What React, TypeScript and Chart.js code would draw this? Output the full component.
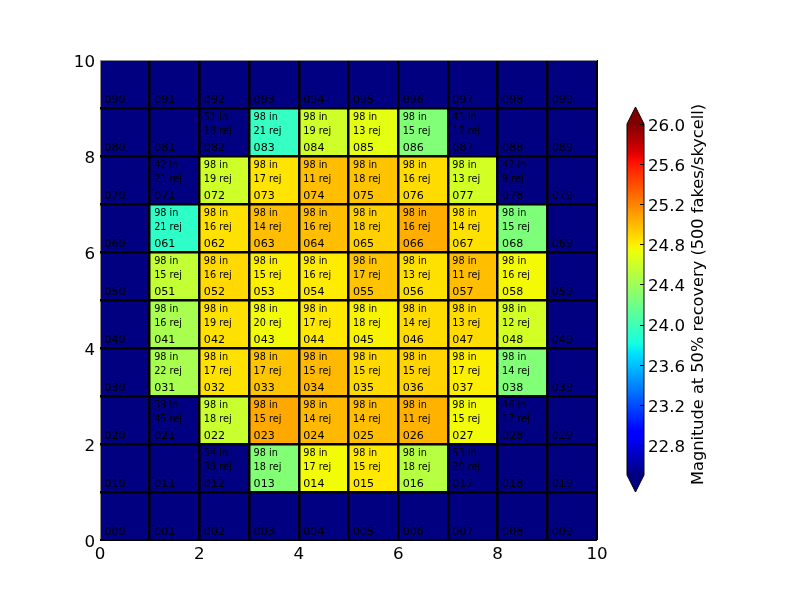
import React, { useEffect, useRef } from "react";
import { Chart, registerables } from "chart.js";

Chart.register(...registerables);

const FONT_FAMILY = '"DejaVu Sans", "Liberation Sans", sans-serif';
const TICK_FONT_SIZE = 16.7;
const LABEL_FONT_SIZE = 16.2;
const ID_FONT_SIZE = 11.1;
const COUNT_FONT_SIZE = 9.7;

const COLUMNS = [0, 1, 2, 3, 4, 5, 6, 7, 8, 9];
const ROWS = [0, 1, 2, 3, 4, 5, 6, 7, 8, 9];
const AXIS_TICK_LABELS = [0, 2, 4, 6, 8, 10];

const COLORBAR_MIN = 22.5;
const COLORBAR_MAX = 26.0;
const COLORBAR_TICKS = [22.8, 23.2, 23.6, 24.0, 24.4, 24.8, 25.2, 25.6, 26.0];
const COLORBAR_LABEL = "Magnitude at 50% recovery (500 fakes/skycell)";

// magnitude at 50% recovery, row index = y (0 at bottom), column index = x
const magnitude: (number | null)[][] = [
  [null, null, null, null, null, null, null, null, null, null],
  [null, null, null, 24.28, 24.75, 24.82, 24.5, null, null, null],
  [null, null, 24.58, 25.06, 25.0, 24.98, 25.02, 24.75, null, null],
  [null, 24.44, 24.85, 24.96, 25.0, 24.88, 24.9, 24.8, 24.27, null],
  [null, 24.44, 24.85, 24.75, 24.82, 24.78, 24.87, 24.87, 24.62, null],
  [null, 24.55, 24.88, 24.8, 24.81, 24.96, 24.85, 24.98, 24.76, null],
  [null, 23.92, 24.85, 24.98, 24.98, 24.91, 25.04, 24.85, 24.26, null],
  [null, null, 24.6, 24.84, 24.98, 24.96, 24.87, 24.62, null, null],
  [null, null, null, 23.95, 24.6, 24.7, 24.27, null, null, null],
  [null, null, null, null, null, null, null, null, null, null],
];

const countIn: (number | null)[][] = [
  [null, null, null, null, null, null, null, null, null, null],
  [null, null, 54, 98, 98, 98, 98, 53, null, null],
  [null, 59, 98, 98, 98, 98, 98, 98, 46, null],
  [null, 98, 98, 98, 98, 98, 98, 98, 98, null],
  [null, 98, 98, 98, 98, 98, 98, 98, 98, null],
  [null, 98, 98, 98, 98, 98, 98, 98, 98, null],
  [null, 98, 98, 98, 98, 98, 98, 98, 98, null],
  [null, 42, 98, 98, 98, 98, 98, 98, 42, null],
  [null, null, 51, 98, 98, 98, 98, 41, null, null],
  [null, null, null, null, null, null, null, null, null, null],
];

const countRej: (number | null)[][] = [
  [null, null, null, null, null, null, null, null, null, null],
  [null, null, 38, 18, 17, 15, 18, 20, null, null],
  [null, 45, 18, 15, 14, 14, 11, 15, 17, null],
  [null, 22, 17, 17, 15, 15, 15, 17, 14, null],
  [null, 16, 19, 20, 17, 18, 14, 13, 12, null],
  [null, 15, 16, 15, 16, 17, 13, 11, 16, null],
  [null, 21, 16, 14, 16, 18, 16, 14, 15, null],
  [null, 21, 19, 17, 11, 18, 16, 13, 9, null],
  [null, null, 18, 21, 19, 13, 15, 12, null, null],
  [null, null, null, null, null, null, null, null, null, null],
];

// matplotlib "jet" segment data
const JET_R: [number, number][] = [[0, 0], [0.35, 0], [0.66, 1], [0.89, 1], [1, 0.5]];
const JET_G: [number, number][] = [[0, 0], [0.125, 0], [0.375, 1], [0.64, 1], [0.91, 0], [1, 0]];
const JET_B: [number, number][] = [[0, 0.5], [0.11, 1], [0.34, 1], [0.65, 0], [1, 0]];

function interp(t: number, pts: [number, number][]): number {
  if (t <= pts[0][0]) return pts[0][1];
  for (let k = 1; k < pts.length; k++) {
    if (t <= pts[k][0]) {
      const [x0, y0] = pts[k - 1];
      const [x1, y1] = pts[k];
      return y0 + ((t - x0) / (x1 - x0)) * (y1 - y0);
    }
  }
  return pts[pts.length - 1][1];
}

function jet(t: number): string {
  const r = Math.round(interp(t, JET_R) * 255);
  const g = Math.round(interp(t, JET_G) * 255);
  const b = Math.round(interp(t, JET_B) * 255);
  return `rgb(${r},${g},${b})`;
}

const UNDER_COLOR = jet(0);
const OVER_COLOR = jet(1);

function colorFor(v: number | null): string {
  if (v === null || v < COLORBAR_MIN) return UNDER_COLOR;
  if (v > COLORBAR_MAX) return OVER_COLOR;
  return jet((v - COLORBAR_MIN) / (COLORBAR_MAX - COLORBAR_MIN));
}

const font = (size: number) => `${size}px ${FONT_FAMILY}`;

const cellTextPlugin = {
  id: "cellText",
  afterDraw(chart: any) {
    const { ctx } = chart;
    const xs = chart.scales.x;
    const ys = chart.scales.y;
    ctx.save();
    ctx.fillStyle = "#000";
    ctx.textAlign = "left";
    ctx.textBaseline = "alphabetic";
    ROWS.forEach((j) => {
      COLUMNS.forEach((i) => {
        const px = xs.getPixelForValue(i + 0.09);
        ctx.font = font(ID_FONT_SIZE);
        ctx.fillText(`0${j}${i}`, px, ys.getPixelForValue(j + 0.1));
        const nin = countIn[j][i];
        const nrej = countRej[j][i];
        if (nin !== null && nrej !== null) {
          ctx.font = font(COUNT_FONT_SIZE);
          ctx.fillText(`${nin} in`, px, ys.getPixelForValue(j + 0.744));
          ctx.fillText(`${nrej} rej`, px, ys.getPixelForValue(j + 0.452));
        }
      });
    });
    ctx.restore();
  },
};

const gridColor = (edgeLight: number) => (c: any) =>
  c.tick && c.tick.value === edgeLight ? "#8c8c8c" : "#000";
const gridWidth = (edgeLight: number, edgeDark: number) => (c: any) => {
  const v = c.tick ? c.tick.value : -1;
  if (v === edgeLight) return 1;
  if (v === edgeDark) return 2;
  return 2.5;
};

const colorbarPlugin = {
  id: "colorbarDecor",
  afterDatasetsDraw(chart: any) {
    const { ctx, chartArea } = chart;
    const { left, right, top, bottom } = chartArea;
    const cx = (left + right) / 2;
    const h = 17;
    ctx.save();
    // extension triangles
    ctx.fillStyle = OVER_COLOR;
    ctx.beginPath();
    ctx.moveTo(left, top);
    ctx.lineTo(cx, top - h);
    ctx.lineTo(right, top);
    ctx.closePath();
    ctx.fill();
    ctx.fillStyle = UNDER_COLOR;
    ctx.beginPath();
    ctx.moveTo(left, bottom);
    ctx.lineTo(cx, bottom + h);
    ctx.lineTo(right, bottom);
    ctx.closePath();
    ctx.fill();
    // outline
    ctx.strokeStyle = "#000";
    ctx.lineWidth = 1;
    ctx.beginPath();
    ctx.moveTo(left, top);
    ctx.lineTo(cx, top - h);
    ctx.lineTo(right, top);
    ctx.lineTo(right, bottom);
    ctx.lineTo(cx, bottom + h);
    ctx.lineTo(left, bottom);
    ctx.closePath();
    ctx.stroke();
    // inward tick marks
    const ys = chart.scales.y;
    ctx.beginPath();
    COLORBAR_TICKS.forEach((v) => {
      const py = Math.round(ys.getPixelForValue(v)) + 0.5;
      ctx.moveTo(right - 4, py);
      ctx.lineTo(right, py);
    });
    ctx.stroke();
    // label
    ctx.fillStyle = "#000";
    ctx.font = font(LABEL_FONT_SIZE);
    ctx.textAlign = "center";
    ctx.textBaseline = "alphabetic";
    ctx.translate(103, (top + bottom) / 2 - 5);
    ctx.rotate(-Math.PI / 2);
    ctx.fillText(COLORBAR_LABEL, 0, 0);
    ctx.restore();
  },
};

export default function App() {
  const mainRef = useRef<HTMLCanvasElement>(null);
  const cbRef = useRef<HTMLCanvasElement>(null);

  useEffect(() => {
    const tickFont = { family: FONT_FAMILY, size: TICK_FONT_SIZE };
    const datasets = ROWS.map((j) => ({
      label: `row ${j}`,
      data: COLUMNS.map((i) => ({ x: i + 0.5, y: [j, j + 1] })),
      backgroundColor: COLUMNS.map((i) => colorFor(magnitude[j][i])),
      borderWidth: 0,
      barPercentage: 1,
      categoryPercentage: 1,
      grouped: false,
    }));

    const main = new Chart(mainRef.current as HTMLCanvasElement, {
      type: "bar",
      data: { datasets: datasets as any },
      options: {
        animation: false,
        responsive: false,
        devicePixelRatio: 1,
        layout: { padding: { top: 60, right: 203, left: 0, bottom: 0 } },
        plugins: { legend: { display: false }, tooltip: { enabled: false } },
        scales: {
          x: {
            type: "linear",
            min: 0,
            max: 10,
            offset: false,
            ticks: {
              stepSize: 1,
              autoSkip: false,
              maxRotation: 0,
              padding: 5,
              color: "#000",
              font: tickFont,
              callback: (v: any) => (AXIS_TICK_LABELS.includes(Number(v)) ? String(v) : ""),
            },
            grid: {
              offset: false,
              drawTicks: false,
              z: 1,
              color: gridColor(0) as any,
              lineWidth: gridWidth(0, 10) as any,
            },
            border: { display: false },
            afterFit: (s: any) => {
              s.height = 60;
            },
          },
          y: {
            type: "linear",
            min: 0,
            max: 10,
            ticks: {
              stepSize: 1,
              autoSkip: false,
              padding: 5,
              labelOffset: 2.5,
              color: "#000",
              font: tickFont,
              callback: (v: any) => (AXIS_TICK_LABELS.includes(Number(v)) ? String(v) : ""),
            },
            grid: {
              drawTicks: false,
              z: 1,
              color: gridColor(10) as any,
              lineWidth: gridWidth(10, 0) as any,
            },
            border: { display: false },
            afterFit: (s: any) => {
              s.width = 100;
            },
          },
        },
      } as any,
      plugins: [cellTextPlugin],
    });

    const cb = new Chart(cbRef.current as HTMLCanvasElement, {
      type: "bar",
      data: {
        labels: [""],
        datasets: [
          {
            data: [[COLORBAR_MIN, COLORBAR_MAX]] as any,
            backgroundColor: (c: any) => {
              const chart = c.chart;
              const ys = chart.scales.y;
              if (!chart.chartArea || !ys) return UNDER_COLOR;
              const g = chart.ctx.createLinearGradient(
                0,
                ys.getPixelForValue(COLORBAR_MIN),
                0,
                ys.getPixelForValue(COLORBAR_MAX)
              );
              for (let k = 0; k <= 64; k++) g.addColorStop(k / 64, jet(k / 64));
              return g;
            },
            borderWidth: 0,
            barPercentage: 1,
            categoryPercentage: 1,
          },
        ],
      },
      options: {
        animation: false,
        responsive: false,
        devicePixelRatio: 1,
        layout: { padding: { left: 27, top: 124, bottom: 125, right: 0 } },
        plugins: { legend: { display: false }, tooltip: { enabled: false } },
        scales: {
          x: { display: false },
          y: {
            position: "right",
            min: COLORBAR_MIN,
            max: COLORBAR_MAX,
            afterBuildTicks: (s: any) => {
              s.ticks = COLORBAR_TICKS.map((v) => ({ value: v }));
            },
            ticks: {
              padding: 4,
              labelOffset: 2.5,
              color: "#000",
              font: tickFont,
              callback: (v: any) => Number(v).toFixed(1),
            },
            grid: { display: false, drawTicks: false },
            border: { display: false },
            afterFit: (s: any) => {
              s.width = 156;
            },
          },
        },
      } as any,
      plugins: [colorbarPlugin],
    });

    return () => {
      main.destroy();
      cb.destroy();
    };
  }, []);

  return (
    <div style={{ position: "absolute", left: 0, top: 0, width: 800, height: 600, background: "#fff" }}>
      <canvas ref={mainRef} width={800} height={600} style={{ position: "absolute", left: 0, top: 0 }} />
      <canvas ref={cbRef} width={200} height={600} style={{ position: "absolute", left: 600, top: 0 }} />
    </div>
  );
}
